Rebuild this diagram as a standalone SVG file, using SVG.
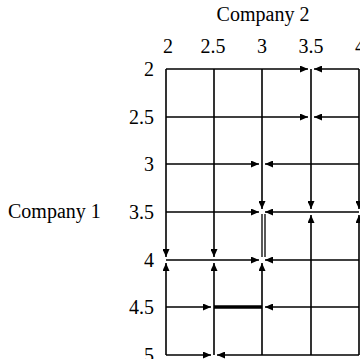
<svg xmlns="http://www.w3.org/2000/svg" width="360" height="359" viewBox="0 0 360 359">
  <style>
    text { font-family: "Liberation Serif", "Times New Roman", serif; font-size: 20px; fill: #000; }
    .col { text-anchor: middle; }
    .row { text-anchor: end; }
    .edge { stroke: #000; stroke-width: 1.6; fill: none; }
    .arrow { marker-end: url(#head); }
    .bold { stroke: #000; stroke-width: 3.6; fill: none; }
    .thin { stroke: #000; stroke-width: 1.3; fill: none; }
  </style>
  <defs>
    <marker id="head" markerUnits="userSpaceOnUse" markerWidth="8" markerHeight="7" refX="8" refY="3.5" orient="auto">
      <path d="M0,0 L8,3.5 L0,7 z" fill="#000"/>
    </marker>
  </defs>
  <rect width="360" height="359" fill="#fff"/>

  <g id="axis-company2">
    <text x="263" y="21" class="col">Company 2</text>
    <text x="168" y="53" class="col">2</text>
    <text x="213" y="53" class="col">2.5</text>
    <text x="262" y="53" class="col">3</text>
    <text x="311" y="53" class="col">3.5</text>
    <text x="360" y="53" class="col">4</text>
  </g>

  <g id="axis-company1">
    <text x="8" y="218">Company 1</text>
    <text x="154" y="75.5" class="row">2</text>
    <text x="154" y="123.5" class="row">2.5</text>
    <text x="154" y="170.5" class="row">3</text>
    <text x="154" y="218.5" class="row">3.5</text>
    <text x="154" y="266.5" class="row">4</text>
    <text x="154" y="313.5" class="row">4.5</text>
    <text x="154" y="361.5" class="row">5</text>
  </g>

  <g id="connectors">
    <!-- horizontal moves (Company 2 responses) -->
    <path class="edge arrow" d="M166,69 H308"/>
    <path class="edge arrow" d="M359,69 H314"/>
    <path class="edge arrow" d="M166,117 H308"/>
    <path class="edge arrow" d="M359,117 H314"/>
    <path class="edge arrow" d="M166,164 H259"/>
    <path class="edge arrow" d="M359,164 H265"/>
    <path class="edge arrow" d="M166,212 H259"/>
    <path class="edge arrow" d="M359,212 H265"/>
    <path class="edge arrow" d="M166,260 H259"/>
    <path class="edge arrow" d="M359,260 H265"/>
    <path class="edge arrow" d="M166,307 H211"/>
    <path class="edge arrow" d="M359,307 H265"/>
    <path class="edge arrow" d="M166,355 H211"/>
    <path class="edge arrow" d="M359,355 H217"/>
    <path class="bold" d="M214,307 H262"/>

    <!-- vertical moves (Company 1 responses) -->
    <path class="edge arrow" d="M166,69 V257"/>
    <path class="edge arrow" d="M166,355 V263"/>
    <path class="edge arrow" d="M214,69 V257"/>
    <path class="edge arrow" d="M214,355 V263"/>
    <path class="edge arrow" d="M262,69 V209"/>
    <path class="edge arrow" d="M262,355 V263"/>
    <path class="thin" d="M262,214 V257"/>
    <path class="thin" d="M265,214 V257"/>
    <path class="edge arrow" d="M311,69 V209"/>
    <path class="edge arrow" d="M311,355 V215"/>
    <path class="edge arrow" d="M359,69 V209"/>
    <path class="edge arrow" d="M359,355 V215"/>
  </g>
</svg>
